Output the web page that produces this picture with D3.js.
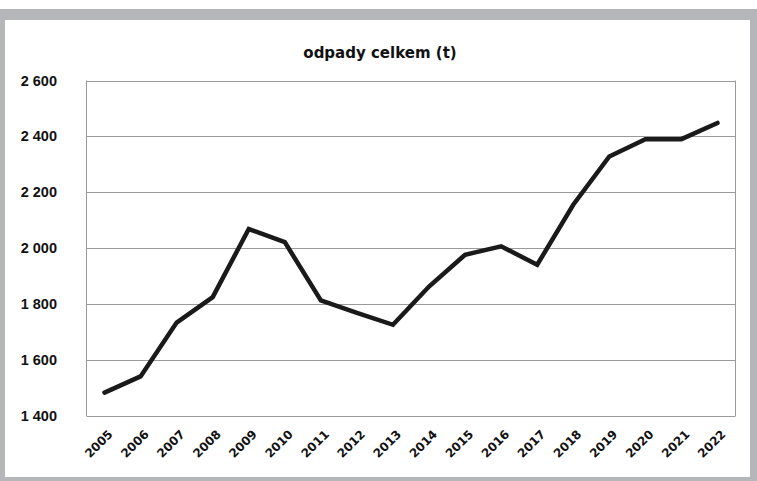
<!DOCTYPE html>
<html>
<head>
<meta charset="utf-8">
<script src="https://cdn.jsdelivr.net/npm/d3@7"></script>
<style>
  body { margin: 0; background: #fff; }
</style>
</head>
<body>
<script>
// chart data
var years = ["2005","2006","2007","2008","2009","2010","2011","2012","2013",
             "2014","2015","2016","2017","2018","2019","2020","2021","2022"];
var odpady = [1482, 1540, 1733, 1824, 2068, 2021, 1812, 1768, 1725,
              1862, 1976, 2006, 1940, 2155, 2328, 2390, 2390, 2448];
var yTicks = [1400, 1600, 1800, 2000, 2200, 2400, 2600];
var title = "odpady celkem (t)";

var w = 757, h = 481;

var svg = d3.select("body").append("svg")
    .attr("width", w)
    .attr("height", h);

// grey frame around the white panel
svg.append("rect").attr("x", 0).attr("y", 9).attr("width", w).attr("height", h - 9)
    .attr("fill", "#b5b6b9");
svg.append("rect").attr("x", 5).attr("y", 20).attr("width", 745).attr("height", 457)
    .attr("fill", "#fff");

var pLeft = 86.5, pRight = 735.5, pTop = 80.5, pBottom = 415.5;

var x = d3.scalePoint().domain(years).range([pLeft, pRight]).padding(0.5);
var y = d3.scaleLinear().domain([1400, 2600]).range([pBottom, pTop]);

var fmt = function(d) { return d3.format(",")(d).replace(",", " "); };

// gridlines
svg.append("g").selectAll("line")
    .data(yTicks)
    .enter().append("line")
    .attr("x1", pLeft).attr("x2", pRight)
    .attr("y1", function(d) { return Math.round(y(d)) + 0.5; })
    .attr("y2", function(d) { return Math.round(y(d)) + 0.5; })
    .attr("stroke", "#9a9a9a")
    .attr("stroke-width", 1);

// plot border sides
svg.append("line").attr("x1", pLeft).attr("x2", pLeft).attr("y1", pTop).attr("y2", pBottom + 0.5)
    .attr("stroke", "#9a9a9a");
svg.append("line").attr("x1", pRight).attr("x2", pRight).attr("y1", pTop).attr("y2", pBottom + 0.5)
    .attr("stroke", "#9a9a9a");

// y labels
svg.append("g").selectAll("text")
    .data(yTicks)
    .enter().append("text")
    .attr("x", 57)
    .attr("y", function(d) { return y(d); })
    .attr("text-anchor", "end")
    .attr("dy", "0.35em")
    .attr("font-family", "'Liberation Sans Narrow', 'Arial Narrow', 'Liberation Sans', sans-serif")
    .attr("font-weight", "bold")
    .attr("font-size", 14.5)
    .attr("fill", "#111")
    .text(fmt);

// x labels
svg.append("g").selectAll("text")
    .data(years)
    .enter().append("text")
    .attr("transform", function(d) { return "translate(" + (x(d) + 6) + "," + 432 + ") rotate(-45)"; })
    .attr("text-anchor", "end")
    .attr("dy", "0.35em")
    .attr("font-family", "'DejaVu Sans', sans-serif")
    .attr("font-weight", "bold")
    .attr("font-size", 12)
    .attr("fill", "#111")
    .text(function(d) { return d; });

// line
var line = d3.line()
    .x(function(d, i) { return x(years[i]); })
    .y(function(d) { return y(d); });

svg.append("path")
    .datum(odpady)
    .attr("d", line)
    .attr("fill", "none")
    .attr("stroke", "#1a1a1a")
    .attr("stroke-width", 4.5)
    .attr("stroke-linejoin", "miter")
    .attr("stroke-linecap", "round");

// title
svg.append("text")
    .attr("x", 380)
    .attr("y", 58)
    .attr("text-anchor", "middle")
    .attr("font-family", "'DejaVu Sans', sans-serif")
    .attr("font-weight", "bold")
    .attr("font-size", 15)
    .attr("fill", "#111")
    .text(title);
</script>
</body>
</html>
